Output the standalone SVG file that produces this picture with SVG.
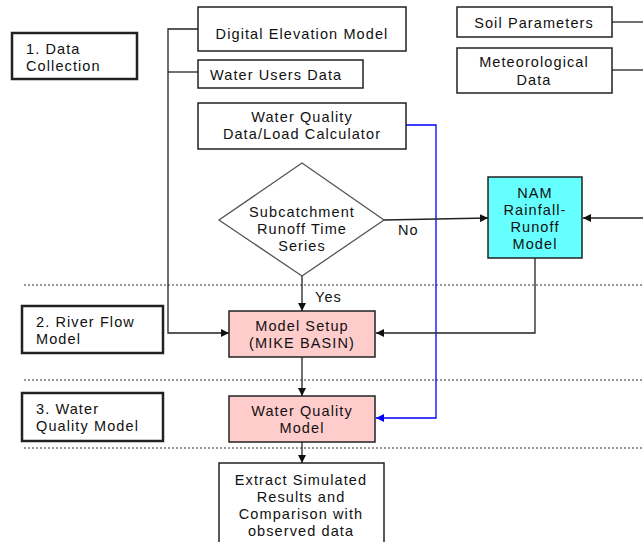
<svg xmlns="http://www.w3.org/2000/svg" width="643" height="542" viewBox="0 0 643 542">
<defs>
<style>
text{font-family:"Liberation Sans",Arial,sans-serif;font-size:14.5px;letter-spacing:1.1px;fill:#111}
.c{text-anchor:middle}
.box{fill:#fff;stroke:#222;stroke-width:1.5}
.sec{fill:#fff;stroke:#222;stroke-width:2.5}
.pink{fill:#ffcccc;stroke:#222;stroke-width:1.5}
.cyan{fill:#66ffff;stroke:#222;stroke-width:1.5}
.ln{fill:none;stroke:#222;stroke-width:1.3}
.blue{fill:none;stroke:#0000ff;stroke-width:1.3}
.dot{stroke:#999;stroke-width:2;stroke-dasharray:2 2}
</style>
<marker id="ah" viewBox="0 0 10 10" refX="10" refY="5" markerWidth="8" markerHeight="8" markerUnits="userSpaceOnUse" orient="auto"><path d="M0,0L10,5L0,10z" fill="#111"/></marker>
<marker id="ahb" viewBox="0 0 10 10" refX="10" refY="5" markerWidth="8" markerHeight="8" markerUnits="userSpaceOnUse" orient="auto"><path d="M0,0L10,5L0,10z" fill="#0000ff"/></marker>
</defs>
<rect width="643" height="542" fill="#fff"/>
<g id="separators">
<line class="dot" x1="24" y1="285" x2="643" y2="285"/>
<line class="dot" x1="24" y1="380" x2="643" y2="380"/>
<line class="dot" x1="24" y1="448" x2="643" y2="448"/>
</g>
<g id="connectors">
<path class="ln" d="M198,29H168V333H229" marker-end="url(#ah)"/>
<path class="ln" d="M168,72H198"/>
<path class="blue" d="M406,125H436V418H376" marker-end="url(#ahb)"/>
<path class="ln" d="M612,22H643"/>
<path class="ln" d="M612,70H643"/>
<path class="ln" d="M384,220L488,218" marker-end="url(#ah)"/>
<path class="ln" d="M643,218H583" marker-end="url(#ah)"/>
<path class="ln" d="M535,258V333H376" marker-end="url(#ah)"/>
<path class="ln" d="M302,276V311" marker-end="url(#ah)"/>
<path class="ln" d="M302,357V396" marker-end="url(#ah)"/>
<path class="ln" d="M302,442V463" marker-end="url(#ah)"/>
<text x="398" y="235">No</text>
<text x="315" y="302">Yes</text>
</g>
<g id="sec1"><rect class="sec" x="12" y="33" width="125" height="46"/><text x="26" y="54">1. Data</text><text x="26" y="71">Collection</text></g>
<g id="sec2"><rect class="sec" x="22" y="306" width="141" height="47"/><text x="36" y="327">2. River Flow</text><text x="36" y="344">Model</text></g>
<g id="sec3"><rect class="sec" x="22" y="393" width="141" height="48"/><text x="36" y="414">3. Water</text><text x="36" y="431">Quality Model</text></g>
<g id="dem"><rect class="box" x="198" y="7" width="208" height="44"/><text class="c" x="302" y="39">Digital Elevation Model</text></g>
<g id="users"><rect class="box" x="198" y="60" width="165" height="28"/><text x="210" y="80">Water Users Data</text></g>
<g id="wqdata"><rect class="box" x="198" y="103" width="208" height="46"/><text class="c" x="302" y="122">Water Quality</text><text class="c" x="302" y="139">Data/Load Calculator</text></g>
<g id="soil"><rect class="box" x="457" y="7" width="155" height="30"/><text class="c" x="534" y="28">Soil Parameters</text></g>
<g id="meteo"><rect class="box" x="457" y="48" width="155" height="45"/><text class="c" x="534" y="67">Meteorological</text><text class="c" x="534" y="85">Data</text></g>
<g id="decision"><path fill="#fff" stroke="#555" stroke-width="1.3" d="M302,163L384,220L302,276L219,220z"/><text class="c" x="302" y="217">Subcatchment</text><text class="c" x="302" y="234">Runoff Time</text><text class="c" x="302" y="251">Series</text></g>
<g id="nam"><rect class="cyan" x="488" y="177" width="94" height="81"/><text class="c" x="535" y="198">NAM</text><text class="c" x="535" y="215">Rainfall-</text><text class="c" x="535" y="232">Runoff</text><text class="c" x="535" y="249">Model</text></g>
<g id="setup"><rect class="pink" x="229" y="311" width="146" height="46"/><text class="c" x="302" y="331">Model Setup</text><text class="c" x="302" y="348">(MIKE BASIN)</text></g>
<g id="wqmodel"><rect class="pink" x="229" y="396" width="146" height="46"/><text class="c" x="302" y="416">Water Quality</text><text class="c" x="302" y="433">Model</text></g>
<g id="extract"><rect class="box" x="219" y="463" width="165" height="90"/><text class="c" x="301" y="485">Extract Simulated</text><text class="c" x="301" y="502">Results and</text><text class="c" x="301" y="519">Comparison with</text><text class="c" x="301" y="536">observed data</text></g>
</svg>
